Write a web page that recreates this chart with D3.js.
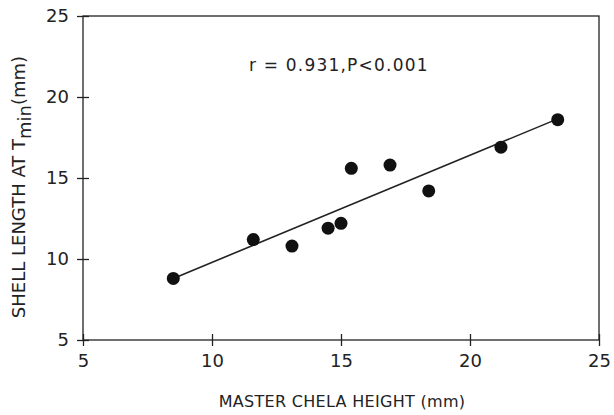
<!DOCTYPE html>
<html>
<head>
<meta charset="utf-8">
<script src="https://cdn.jsdelivr.net/npm/d3@7"></script>
<style>
  body { margin: 0; background: #fff; }
  svg { display: block; font-family: "DejaVu Sans", sans-serif; }
</style>
</head>
<body>
<div id="chart"></div>
<script>
// master chela height (mm) vs shell length at Tmin (mm)
const chelaHeight = [8.5, 11.6, 13.1, 14.5, 15.0, 15.4, 16.9, 18.4, 21.2, 23.4];
const shellLength = [8.8, 11.2, 10.8, 11.9, 12.2, 15.6, 15.8, 14.2, 16.9, 18.6];
// regression line end points
const fitX = [8.5, 23.4];
const fitY = [8.8, 18.65];
const xTicks = [5, 10, 15, 20, 25];
const yTicks = [5, 10, 15, 20, 25];

const width = 614;
const height = 415;
const margin = { top: 16, right: 15, bottom: 75, left: 83 };
const ink = '#222';

const x = d3.scaleLinear()
  .domain([5, 25])
  .range([margin.left, width - margin.right]);

const y = d3.scaleLinear()
  .domain([5, 25])
  .range([height - margin.bottom, margin.top]);

const svg = d3.select('#chart')
  .append('svg')
  .attr('width', width)
  .attr('height', height);

// frame
svg.append('rect')
  .attr('x', x(5))
  .attr('y', y(25))
  .attr('width', x(25) - x(5))
  .attr('height', y(5) - y(25))
  .attr('fill', 'none')
  .attr('stroke', ink)
  .attr('stroke-width', 1.3);

const xAxis = (g) => g
  .attr('transform', `translate(0,${y(5)})`)
  .call(d3.axisBottom(x).tickValues(xTicks).tickSize(6).tickPadding(8))
  .call((g) => g.select('.domain').remove())
  .call((g) => g.selectAll('.tick line').attr('y1', -6).attr('stroke', ink).attr('stroke-width', 1.3))
  .call((g) => g.selectAll('.tick text')
    .attr('font-size', 18)
    .attr('fill', ink)
    .attr('font-family', '"DejaVu Sans", sans-serif'));

const yAxis = (g) => g
  .attr('transform', `translate(${x(5)},0)`)
  .call(d3.axisLeft(y).tickValues(yTicks).tickSize(6).tickPadding(8))
  .call((g) => g.select('.domain').remove())
  .call((g) => g.selectAll('.tick line').attr('x1', 6).attr('stroke', ink).attr('stroke-width', 1.3))
  .call((g) => g.selectAll('.tick text')
    .attr('font-size', 18)
    .attr('fill', ink)
    .attr('font-family', '"DejaVu Sans", sans-serif'));

svg.append('g').call(xAxis);
svg.append('g').call(yAxis);

// fit line
const line = d3.line()
  .x((d) => x(d[0]))
  .y((d) => y(d[1]));

svg.append('path')
  .datum(d3.zip(fitX, fitY))
  .attr('fill', 'none')
  .attr('stroke', ink)
  .attr('stroke-width', 1.6)
  .attr('d', line);

// points
svg.append('g')
  .selectAll('circle')
  .data(d3.zip(chelaHeight, shellLength))
  .join('circle')
  .attr('cx', (d) => x(d[0]))
  .attr('cy', (d) => y(d[1]))
  .attr('r', 6.5)
  .attr('fill', '#111');

// annotation
svg.append('text')
  .attr('x', 249)
  .attr('y', 71)
  .attr('font-size', 17)
  .attr('letter-spacing', 1.2)
  .attr('fill', ink)
  .text('r = 0.931,P<0.001');

// axis titles
svg.append('text')
  .attr('x', 342)
  .attr('y', 407)
  .attr('text-anchor', 'middle')
  .attr('font-size', 16)
  .attr('letter-spacing', 0.3)
  .attr('fill', ink)
  .text('MASTER CHELA HEIGHT (mm)');

const yTitle = svg.append('text')
  .attr('transform', 'translate(25,187) rotate(-90)')
  .attr('text-anchor', 'middle')
  .attr('font-size', 18)
  .attr('fill', ink);
yTitle.append('tspan').text('SHELL LENGTH AT T');
yTitle.append('tspan').attr('dy', 6).text('min');
yTitle.append('tspan').attr('dy', -6).text('(mm)');
</script>
</body>
</html>
